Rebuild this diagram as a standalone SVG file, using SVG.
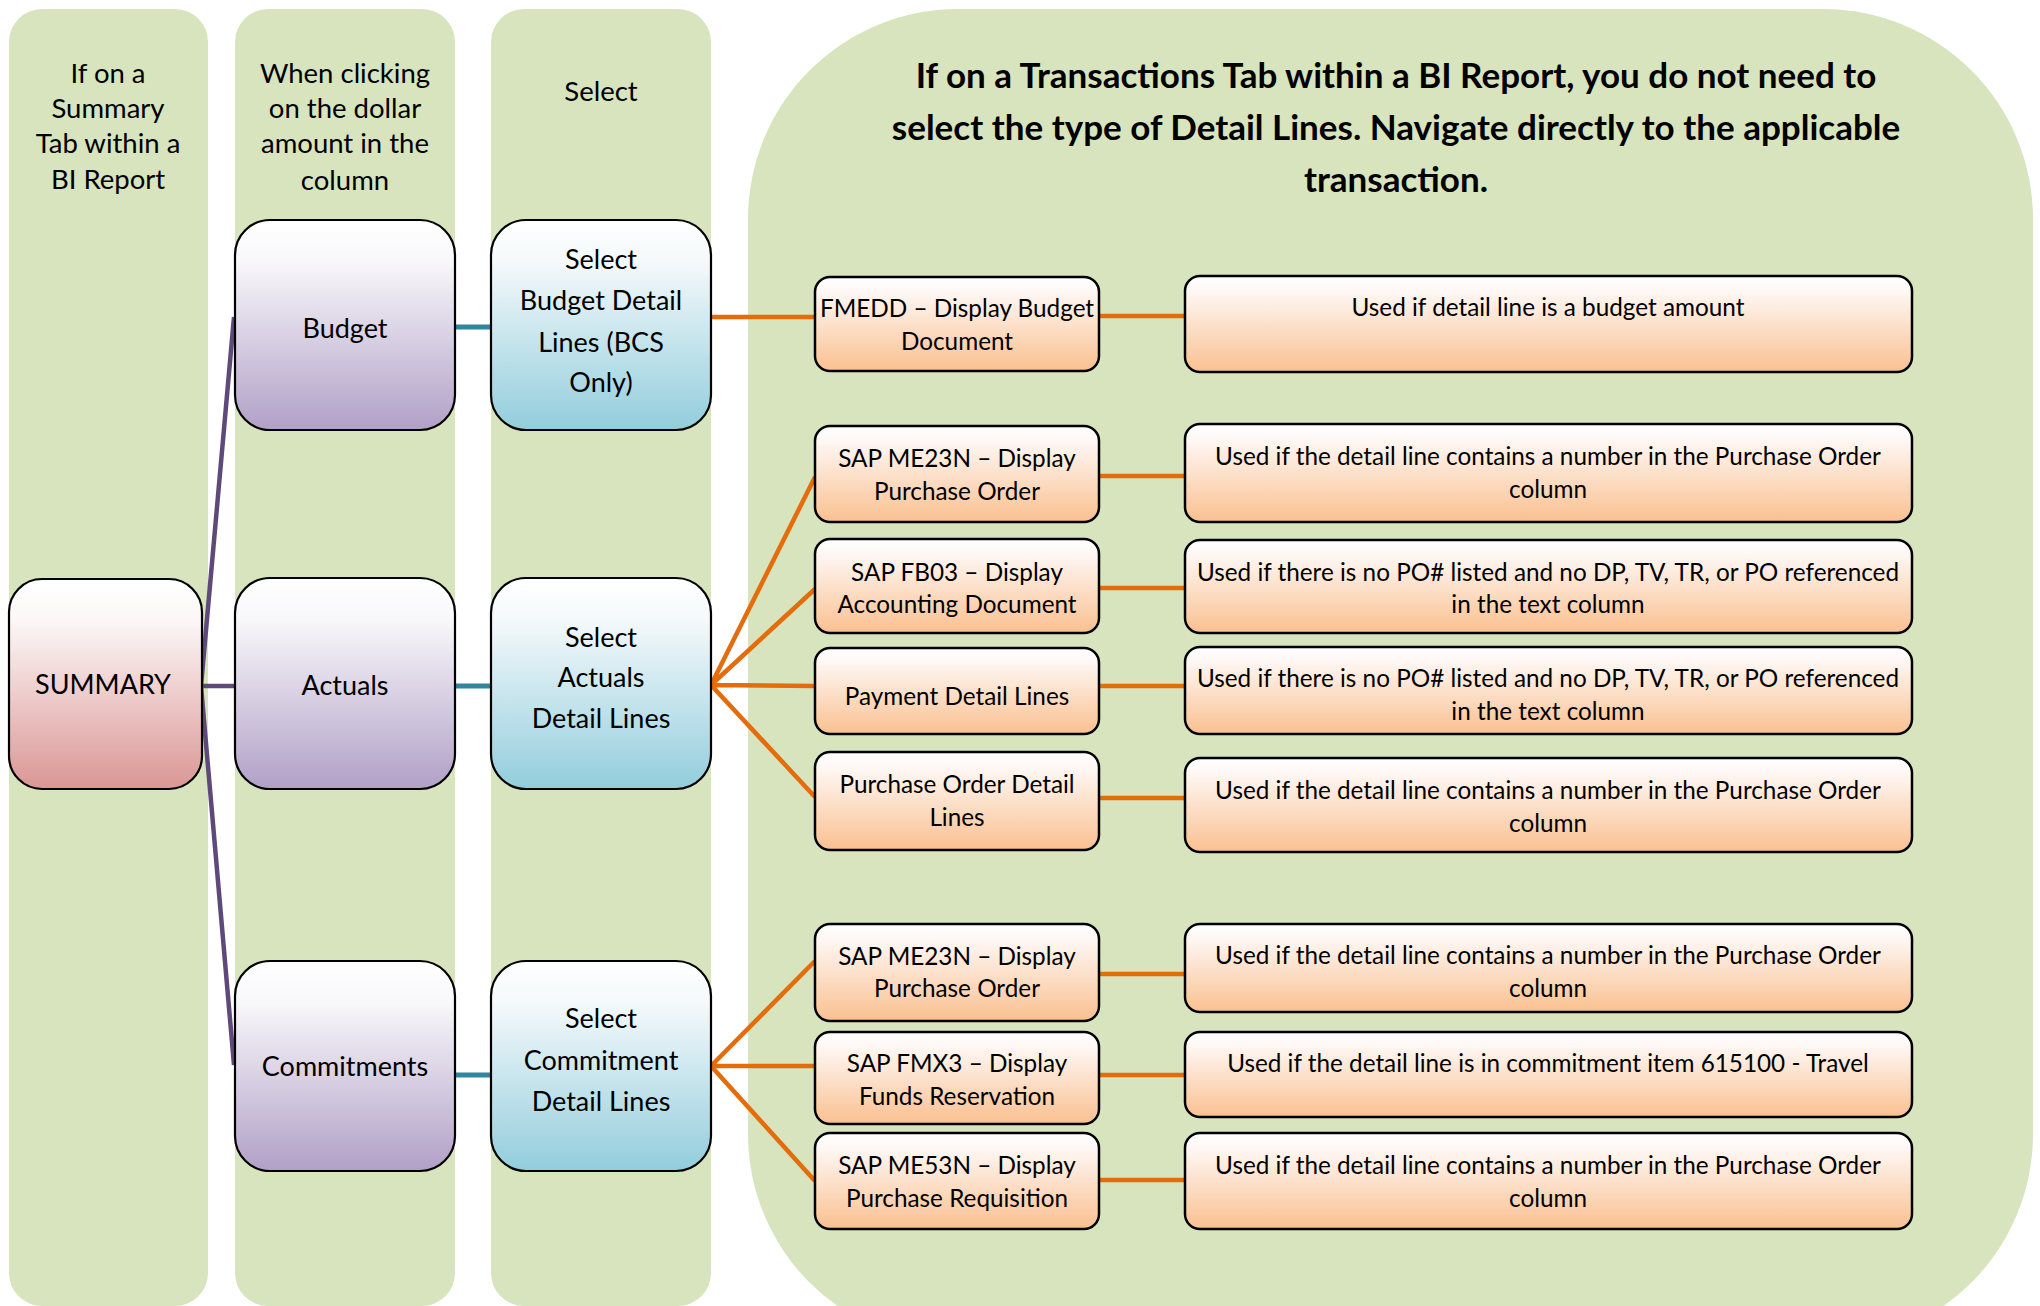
<svg xmlns="http://www.w3.org/2000/svg" width="2040" height="1306" viewBox="0 0 2040 1306">
<defs>
<linearGradient id="gRed" x1="0" y1="0" x2="0" y2="1"><stop offset="0" stop-color="#FFFFFF"/><stop offset="0.2" stop-color="#FCF7F7"/><stop offset="1" stop-color="#DA9694"/></linearGradient>
<linearGradient id="gPur" x1="0" y1="0" x2="0" y2="1"><stop offset="0" stop-color="#FFFFFF"/><stop offset="0.2" stop-color="#F8F7FA"/><stop offset="1" stop-color="#B1A0C7"/></linearGradient>
<linearGradient id="gBlu" x1="0" y1="0" x2="0" y2="1"><stop offset="0" stop-color="#FFFFFF"/><stop offset="0.2" stop-color="#F4F9FB"/><stop offset="1" stop-color="#92CDDC"/></linearGradient>
<linearGradient id="gOra" x1="0" y1="0" x2="0" y2="1"><stop offset="0" stop-color="#FFFFFF"/><stop offset="0.15" stop-color="#FEF8F5"/><stop offset="1" stop-color="#FAC090"/></linearGradient>
</defs>
<style>
.bg{fill:#D7E4BD}
text{font-family:Lato,"Open Sans","Liberation Sans",sans-serif;fill:#000;text-anchor:middle}
.hd{font-size:27.5px}
.nd{font-size:27px}
.tt{font-size:35px;font-weight:bold}
.tr{font-size:24.3px}
.box{stroke:#000;stroke-width:2.2}
.tbox{stroke:#000;stroke-width:2.5;fill:url(#gOra)}
.pur{stroke:#5F497A;stroke-width:4.5;fill:none}
.tea{stroke:#31859C;stroke-width:5;fill:none}
.ora{stroke:#E46C0A;stroke-width:4.5;fill:none}
</style>
<g id="backgrounds">
<rect class="bg" x="9" y="9" width="199" height="1297" rx="33"/>
<rect class="bg" x="235" y="9" width="220" height="1297" rx="33"/>
<rect class="bg" x="491" y="9" width="220" height="1297" rx="33"/>
<rect class="bg" x="748" y="9" width="1285" height="1335" rx="210"/>
</g>
<g id="headers">
<text class="hd" x="108"><tspan x="108" y="83">If on a</tspan><tspan x="108" y="118">Summary</tspan><tspan x="108" y="153">Tab within a</tspan><tspan x="108" y="189">BI Report</tspan></text>
<text class="hd" x="345"><tspan x="345" y="83">When clicking</tspan><tspan x="345" y="118">on the dollar</tspan><tspan x="345" y="153">amount in the</tspan><tspan x="345" y="190">column</tspan></text>
<text class="hd" x="601" y="101">Select</text>
<text class="tt" x="1396"><tspan x="1396" y="88">If on a Transactions Tab within a BI Report, you do not need to</tspan><tspan x="1396" y="140">select the type of Detail Lines. Navigate directly to the applicable</tspan><tspan x="1396" y="192">transaction.</tspan></text>
</g>
<g id="connectors">
<path class="pur" d="M234,317 L201,686 L234,1065 M201,686 L235,686"/>
<path class="tea" d="M455,327 H491 M455,686 H491 M455,1075 H491"/>
<path class="ora" d="M711,317 H815 M1099,316 H1185"/>
<path class="ora" d="M711,685 L815,477 M711,685 L815,589 M711,685 L815,686 M711,685 L815,797"/>
<path class="ora" d="M1099,476 H1185 M1099,588 H1185 M1099,686 H1185 M1099,798 H1185"/>
<path class="ora" d="M711,1066 L815,961 M711,1066 L815,1066 M711,1066 L815,1181"/>
<path class="ora" d="M1099,974 H1185 M1099,1075 H1185 M1099,1180 H1185"/>
</g>
<g id="summary"><rect class="box" x="9" y="579" width="193" height="210" rx="33" fill="url(#gRed)"/><text class="nd" x="103" y="694">SUMMARY</text></g>
<g id="budget"><rect class="box" x="235" y="220" width="220" height="210" rx="35" fill="url(#gPur)"/><text class="nd" x="345" y="338">Budget</text></g>
<g id="actuals"><rect class="box" x="235" y="578" width="220" height="211" rx="35" fill="url(#gPur)"/><text class="nd" x="345" y="695">Actuals</text></g>
<g id="commitments"><rect class="box" x="235" y="961" width="220" height="210" rx="35" fill="url(#gPur)"/><text class="nd" x="345" y="1076">Commitments</text></g>
<g id="select-budget"><rect class="box" x="491" y="220" width="220" height="210" rx="35" fill="url(#gBlu)"/><text class="nd"><tspan x="601" y="269">Select</tspan><tspan x="601" y="310">Budget Detail</tspan><tspan x="601" y="352">Lines (BCS</tspan><tspan x="601" y="392">Only)</tspan></text></g>
<g id="select-actuals"><rect class="box" x="491" y="578" width="220" height="211" rx="35" fill="url(#gBlu)"/><text class="nd"><tspan x="601" y="647">Select</tspan><tspan x="601" y="687">Actuals</tspan><tspan x="601" y="728">Detail Lines</tspan></text></g>
<g id="select-commitment"><rect class="box" x="491" y="961" width="220" height="210" rx="35" fill="url(#gBlu)"/><text class="nd"><tspan x="601" y="1028">Select</tspan><tspan x="601" y="1070">Commitment</tspan><tspan x="601" y="1111">Detail Lines</tspan></text></g>
<g id="fmedd"><rect class="tbox" x="815" y="277" width="284" height="94" rx="15"/><text class="tr"><tspan x="957" y="317">FMEDD – Display Budget</tspan><tspan x="957" y="350">Document</tspan></text></g>
<g id="fmedd-note"><rect class="tbox" x="1185" y="276" width="727" height="96" rx="15"/><text class="tr" x="1548" y="316">Used if detail line is a budget amount</text></g>
<g id="me23n-a"><rect class="tbox" x="815" y="426" width="284" height="96" rx="15"/><text class="tr"><tspan x="957" y="467">SAP ME23N – Display</tspan><tspan x="957" y="500">Purchase Order</tspan></text></g>
<g id="me23n-a-note"><rect class="tbox" x="1185" y="424" width="727" height="98" rx="15"/><text class="tr"><tspan x="1548" y="465">Used if the detail line contains a number in the Purchase Order</tspan><tspan x="1548" y="498">column</tspan></text></g>
<g id="fb03"><rect class="tbox" x="815" y="539" width="284" height="94" rx="15"/><text class="tr"><tspan x="957" y="581">SAP FB03 – Display</tspan><tspan x="957" y="613">Accounting Document</tspan></text></g>
<g id="fb03-note"><rect class="tbox" x="1185" y="540" width="727" height="93" rx="15"/><text class="tr"><tspan x="1548" y="581">Used if there is no PO# listed and no DP, TV, TR, or PO referenced</tspan><tspan x="1548" y="613">in the text column</tspan></text></g>
<g id="payment"><rect class="tbox" x="815" y="648" width="284" height="86" rx="15"/><text class="tr" x="957" y="705">Payment Detail Lines</text></g>
<g id="payment-note"><rect class="tbox" x="1185" y="647" width="727" height="87" rx="15"/><text class="tr"><tspan x="1548" y="687">Used if there is no PO# listed and no DP, TV, TR, or PO referenced</tspan><tspan x="1548" y="720">in the text column</tspan></text></g>
<g id="po-detail"><rect class="tbox" x="815" y="752" width="284" height="98" rx="15"/><text class="tr"><tspan x="957" y="793">Purchase Order Detail</tspan><tspan x="957" y="826">Lines</tspan></text></g>
<g id="po-detail-note"><rect class="tbox" x="1185" y="758" width="727" height="94" rx="15"/><text class="tr"><tspan x="1548" y="799">Used if the detail line contains a number in the Purchase Order</tspan><tspan x="1548" y="832">column</tspan></text></g>
<g id="me23n-c"><rect class="tbox" x="815" y="924" width="284" height="97" rx="15"/><text class="tr"><tspan x="957" y="965">SAP ME23N – Display</tspan><tspan x="957" y="997">Purchase Order</tspan></text></g>
<g id="me23n-c-note"><rect class="tbox" x="1185" y="924" width="727" height="88" rx="15"/><text class="tr"><tspan x="1548" y="964">Used if the detail line contains a number in the Purchase Order</tspan><tspan x="1548" y="997">column</tspan></text></g>
<g id="fmx3"><rect class="tbox" x="815" y="1032" width="284" height="92" rx="15"/><text class="tr"><tspan x="957" y="1072">SAP FMX3 – Display</tspan><tspan x="957" y="1105">Funds Reservation</tspan></text></g>
<g id="fmx3-note"><rect class="tbox" x="1185" y="1032" width="727" height="85" rx="15"/><text class="tr" x="1548" y="1072">Used if the detail line is in commitment item 615100 - Travel</text></g>
<g id="me53n"><rect class="tbox" x="815" y="1133" width="284" height="96" rx="15"/><text class="tr"><tspan x="957" y="1174">SAP ME53N – Display</tspan><tspan x="957" y="1207">Purchase Requisition</tspan></text></g>
<g id="me53n-note"><rect class="tbox" x="1185" y="1133" width="727" height="96" rx="15"/><text class="tr"><tspan x="1548" y="1174">Used if the detail line contains a number in the Purchase Order</tspan><tspan x="1548" y="1207">column</tspan></text></g>
</svg>
